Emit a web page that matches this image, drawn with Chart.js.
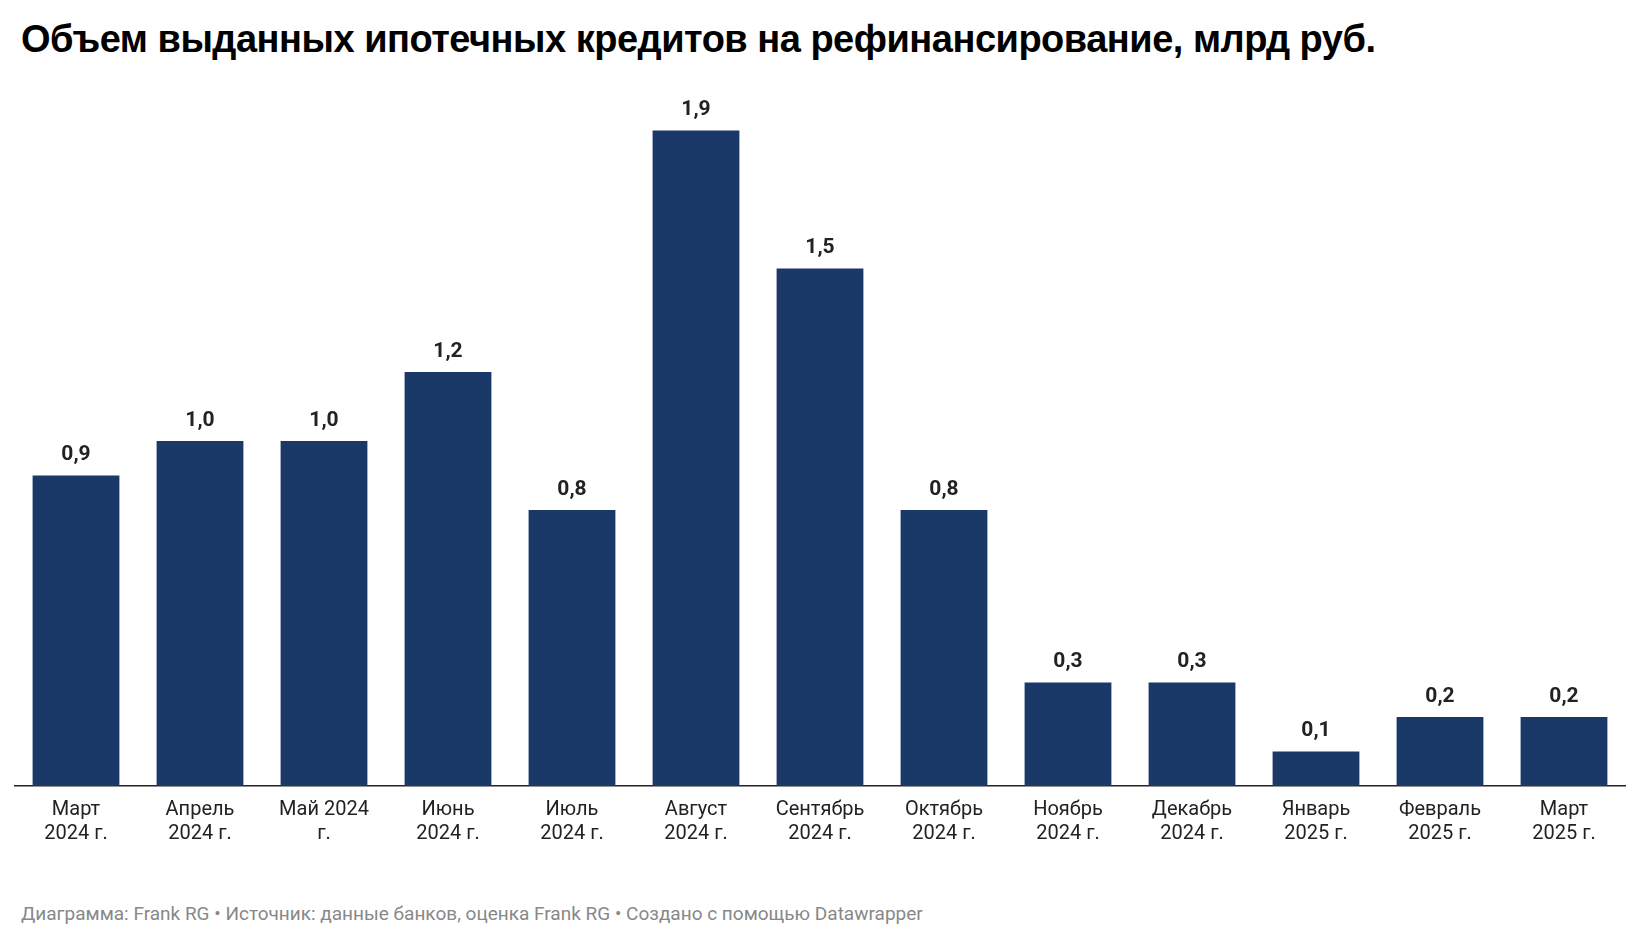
<!DOCTYPE html>
<html>
<head>
<meta charset="utf-8">
<script src="https://cdn.jsdelivr.net/npm/chart.js@4"></script>
<style>
  body { margin: 0; background: #fff; width: 1640px; height: 948px; position: relative; font-family: Roboto, sans-serif; }
  #title { position: absolute; left: 21px; top: 18px; font: bold 38px "Liberation Sans", Arial, sans-serif; color: #000; letter-spacing: -0.5px; }
  #wrap { position: absolute; left: 14px; top: 88px; width: 1612px; height: 770px; }
  #footer { position: absolute; left: 21px; top: 902px; font: 19px Roboto, sans-serif; color: #888; }
</style>
</head>
<body>
<div id="title">Объем выданных ипотечных кредитов на рефинансирование, млрд руб.</div>
<div id="wrap"><canvas id="chart"></canvas></div>
<div id="footer">Диаграмма: Frank RG • Источник: данные банков, оценка Frank RG • Создано с помощью Datawrapper</div>
<script>
// Data
const labels = [
    ['Март', '2024 г.'], ['Апрель', '2024 г.'], ['Май 2024', 'г.'], ['Июнь', '2024 г.'],
    ['Июль', '2024 г.'], ['Август', '2024 г.'], ['Сентябрь', '2024 г.'], ['Октябрь', '2024 г.'],
    ['Ноябрь', '2024 г.'], ['Декабрь', '2024 г.'], ['Январь', '2025 г.'], ['Февраль', '2025 г.'],
    ['Март', '2025 г.']
];
const values = [0.9, 1.0, 1.0, 1.2, 0.8, 1.9, 1.5, 0.8, 0.3, 0.3, 0.1, 0.2, 0.2];

const valueLabels = {
    id: 'valueLabels',
    afterDatasetsDraw(chart) {
        const ctx = chart.ctx;
        const meta = chart.getDatasetMeta(0);
        ctx.save();
        ctx.font = 'bold 21px Roboto, sans-serif';
        ctx.fillStyle = '#222';
        ctx.textAlign = 'center';
        ctx.textBaseline = 'bottom';
        meta.data.forEach((bar, i) => {
            ctx.fillText(values[i].toFixed(1).replace('.', ','), bar.x, bar.y - 10);
        });
        ctx.restore();
    }
};

new Chart(document.getElementById('chart').getContext('2d'), {
    type: 'bar',
    data: {
        labels: labels,
        datasets: [{
            data: values,
            backgroundColor: '#1a3868',
            barPercentage: 0.7,
            categoryPercentage: 1.0
        }]
    },
    options: {
        responsive: true,
        maintainAspectRatio: false,
        animation: false,
        layout: { padding: { top: 8, left: 0, right: 0 } },
        plugins: { legend: { display: false }, tooltip: { enabled: false } },
        scales: {
            x: {
                grid: { display: false, drawTicks: false },
                border: { color: '#222', width: 1.5 },
                ticks: { color: '#222', font: { size: 20, family: 'Roboto' }, padding: 12, maxRotation: 0 }
            },
            y: { display: false, min: 0, max: 2.0 }
        }
    },
    plugins: [valueLabels]
});
</script>
</body>
</html>
